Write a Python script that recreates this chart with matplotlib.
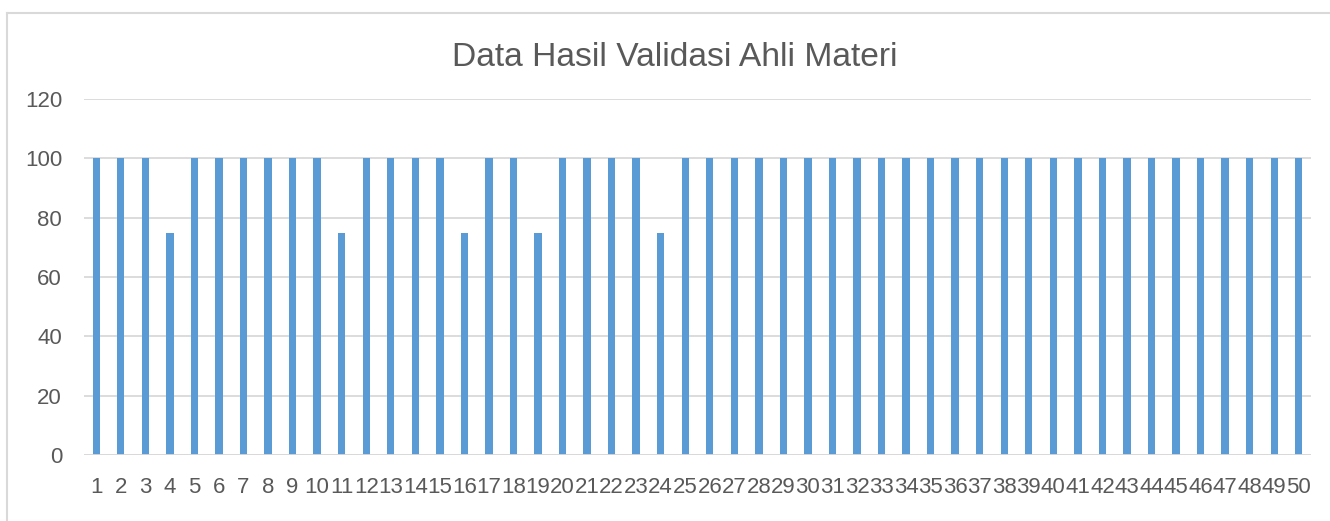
import matplotlib
matplotlib.use("Agg")
import matplotlib.pyplot as plt
from matplotlib.lines import Line2D

categories = [str(i) for i in range(1, 51)]
values = [100, 100, 100, 75, 100, 100, 100, 100, 100, 100,
          75, 100, 100, 100, 100, 75, 100, 100, 75, 100,
          100, 100, 100, 75, 100, 100, 100, 100, 100, 100,
          100, 100, 100, 100, 100, 100, 100, 100, 100, 100,
          100, 100, 100, 100, 100, 100, 100, 100, 100, 100]
yticks = [0, 20, 40, 60, 80, 100, 120]
title = "Data Hasil Validasi Ahli Materi"

W, H = 1330, 521
fig = plt.figure(figsize=(W / 100, H / 100), dpi=100)
plt.rcParams['font.family'] = ['Liberation Sans', 'DejaVu Sans']

left, right, top, bottom = 84, 1311, 99, 455
ax = fig.add_axes([left / W, 1 - bottom / H, (right - left) / W, (bottom - top) / H])

x = list(range(len(categories)))
ax.bar(x, values, width=0.3, color='#5B9BD5', zorder=3)
ax.set_xlim(-0.5, len(categories) - 0.5)
ax.set_ylim(0, 120)
ax.set_yticks(yticks)
ax.set_xticks(x)
ax.set_xticklabels(categories)
ax.tick_params(axis='both', length=0, labelsize=16, colors='#595959')
ax.tick_params(axis='y', pad=15.8)
ax.tick_params(axis='x', pad=16)
ax.grid(axis='y', color='#D9D9D9', linewidth=1.3, zorder=0)
for s in ax.spines.values():
    s.set_visible(False)
ax.axhline(0, color='#D9D9D9', linewidth=1.3, zorder=4)

fig.text(675 / W, 1 - 58 / H, title, ha='center', va='center', fontsize=24.2, color='#595959')

# chart area border
fig.add_artist(Line2D([7 / W, 7 / W], [0, 1 - 13 / H], color='#D9D9D9', linewidth=1.5))
fig.add_artist(Line2D([7 / W, 1], [1 - 13 / H, 1 - 13 / H], color='#D9D9D9', linewidth=1.5))

fig.savefig('out.png', dpi=100)
